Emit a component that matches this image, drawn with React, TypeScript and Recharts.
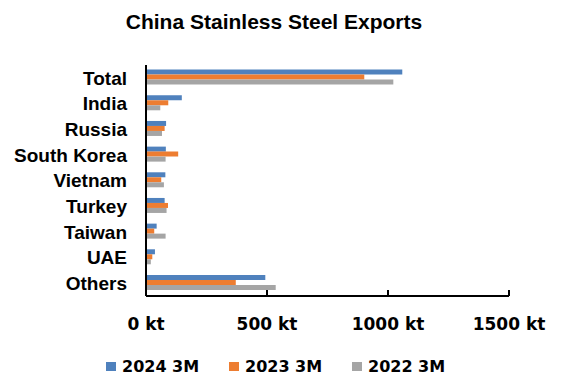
import { BarChart, Bar, XAxis, YAxis } from "recharts"

const categories = ["Total", "India", "Russia", "South Korea", "Vietnam", "Turkey", "Taiwan", "UAE", "Others"]
const exports2024 = [1059, 148, 83, 82, 80, 77, 44, 37, 493]
const exports2023 = [902, 92, 77, 133, 63, 91, 34, 26, 371]
const exports2022 = [1022, 59, 66, 81, 74, 85, 81, 20, 536]
const xTicks = [0, 500, 1000, 1500]

const series = [
  { key: "y2024", name: "2024 3M", color: "#4F81BD" },
  { key: "y2023", name: "2023 3M", color: "#ED7D31" },
  { key: "y2022", name: "2022 3M", color: "#A5A5A5" },
]

const data = categories.map((country, i) => ({
  country,
  y2024: exports2024[i],
  y2023: exports2023[i],
  y2022: exports2022[i],
}))

// legend item x positions in the original
const legendX = [106, 229, 352]

const App = () => {
  return (
    <div style={{ position: "absolute", left: 0, top: 0, width: 561, height: 376, background: "#fff" }}>
      <BarChart
        width={561}
        height={376}
        data={data}
        layout="vertical"
        margin={{ top: 65, right: 52, bottom: 0, left: 0 }}
        barCategoryGap="18%"
        barGap={0}
      >
        <XAxis
          type="number"
          domain={[0, 1500]}
          ticks={xTicks}
          tickFormatter={(v) => `${v} kt`}
          height={80}
          axisLine={{ stroke: "#000", strokeWidth: 2 }}
          tickLine={{ stroke: "#000", strokeWidth: 2 }}
          tickSize={-6}
          tickMargin={28}
          tick={{ fill: "#000", fontSize: 17, fontWeight: "bold", fontFamily: "DejaVu Sans" }}
          interval={0}
        />
        <YAxis
          type="category"
          dataKey="country"
          width={146}
          axisLine={{ stroke: "#000", strokeWidth: 2 }}
          tickLine={false}
          tickSize={0}
          tickMargin={19}
          tick={{ fill: "#000", fontSize: 19, fontWeight: "bold", fontFamily: "Liberation Sans" }}
          interval={0}
        />
        {series.map((s) => (
          <Bar key={s.key} dataKey={s.key} name={s.name} fill={s.color} isAnimationActive={false} />
        ))}
      </BarChart>
      <svg width={561} height={376} style={{ position: "absolute", left: 0, top: 0, pointerEvents: "none" }}>
        <text
          x={274}
          y={29}
          textAnchor="middle"
          fontFamily="Liberation Sans"
          fontWeight="bold"
          fontSize={21}
          fill="#000"
        >
          China Stainless Steel Exports
        </text>
        {series.map((s, i) => (
          <g key={s.key}>
            <rect x={legendX[i]} y={362} width={10} height={9} fill={s.color} />
            <text x={legendX[i] + 16} y={372} fontFamily="DejaVu Sans" fontWeight="bold" fontSize={16} fill="#000">
              {s.name}
            </text>
          </g>
        ))}
      </svg>
    </div>
  )
}

export default App
